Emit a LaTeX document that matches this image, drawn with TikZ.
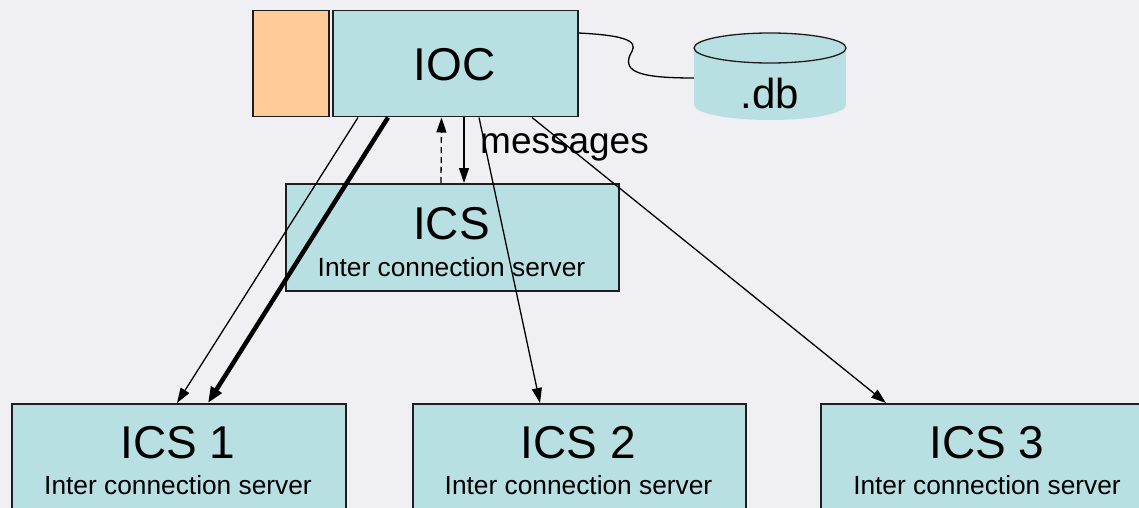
\documentclass[tikz,border=0pt]{standalone}
\usepackage{fontspec}
\setmainfont{Liberation Sans}
\usetikzlibrary{arrows.meta,calc}
\definecolor{bgc}{HTML}{EFEFF4}
\definecolor{boxfill}{HTML}{B8E0E3}
\definecolor{orangefill}{HTML}{FFCC99}
\definecolor{edge}{HTML}{1E1E1E}
\newcommand{\fs}[1]{\fontsize{#1}{#1}\selectfont}
\tikzset{
  box/.style={draw=edge,line width=1.5pt,fill=boxfill,inner sep=0pt,anchor=north west},
  bigtext/.style={font=\fs{46},anchor=base,inner sep=0pt},
  smalltext/.style={font=\fs{26.3},anchor=base,inner sep=0pt},
  conn/.style={line width=1.3pt,-{Triangle[length=15pt,width=10pt]}},
  thickconn/.style={line width=4.5pt,-{Triangle[length=16pt,width=12pt]}},
}
\begin{document}
\begin{tikzpicture}[x=1pt,y=-1pt]
\fill[bgc] (0,0) rectangle (1139,508);
\useasboundingbox (0,0) rectangle (1139,508);

% side block and the IOC
\node[box,fill=orangefill,minimum width=76pt,minimum height=106pt] (side) at (252,10) {};
\node[box,minimum width=245pt,minimum height=106pt] (ioc) at (332,10) {};
\node[bigtext] (ioclabel) at (454.5,81) {IOC};

% database cylinder
\node[minimum width=152pt,minimum height=87pt,inner sep=0pt] (db) at (770,76.5) {};
\fill[boxfill] (694,48) -- (694,105) arc[start angle=180,end angle=360,x radius=76pt,y radius=15pt] -- (846,48) -- cycle;
\draw[edge,line width=1.3pt,fill=boxfill] (770,48) ellipse[x radius=76pt,y radius=15pt];
\node[font=\fs{42},anchor=base,inner sep=0pt] (dblabel) at (770,109) {.db};

% link from the IOC to the database
\draw[line width=1.3pt] ([yshift=-23pt]ioc.north east) .. controls (640,36) and (636,45) .. (630,55)
  .. controls (623,72) and (640,78) .. ([yshift=-1.5pt]db.west);

% central server
\node[box,minimum width=333pt,minimum height=107pt] (ics) at (285,183) {};
\node[bigtext] (icslabel) at (451.5,239) {ICS};
\node[smalltext] (icssub) at (451.5,276) {Inter connection server};

% servers on the lower row
\node[box,minimum width=334pt,minimum height=107pt] (ics1) at (11,403) {};
\node[bigtext] at (178,458) {ICS 1};
\node[smalltext] at (178,494) {Inter connection server};
\node[box,minimum width=333pt,minimum height=107pt] (ics2) at (412,403) {};
\node[bigtext] at (578.5,458) {ICS 2};
\node[smalltext] at (578.5,494) {Inter connection server};
\node[box,minimum width=334pt,minimum height=107pt] (ics3) at (820,403) {};
\node[bigtext] at (987,458) {ICS 3};
\node[smalltext] at (987,494) {Inter connection server};

\node[font=\fs{37},anchor=base west,inner sep=0pt] (msg) at (480,153) {messages};

% connections
\draw[conn] ([xshift=26pt]ioc.south west) -- ([xshift=166pt]ics1.north west);
\draw[thickconn] ([xshift=56pt]ioc.south west) -- ([xshift=197pt]ics1.north west);
\draw[conn,dashed,dash pattern=on 6pt off 4pt] ([xshift=156pt]ics.north west) -- ([xshift=109.5pt]ioc.south west);
\draw[conn] ([xshift=132pt]ioc.south west) -- ([xshift=179pt]ics.north west);
\draw[conn] ([xshift=147pt]ioc.south west) -- ([xshift=128pt]ics2.north west);
\draw[conn] ([xshift=200pt]ioc.south west) -- ([xshift=66pt]ics3.north west);
\end{tikzpicture}
\end{document}
